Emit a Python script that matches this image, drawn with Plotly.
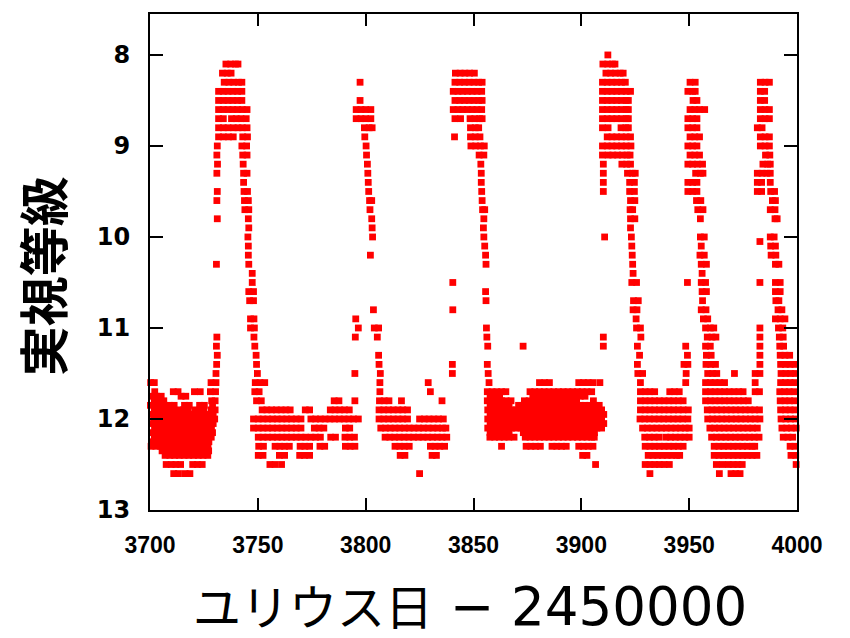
import plotly.graph_objects as go

# ---- data: (visual magnitude, [JD - 2450000, ...]) rows ----
q1_rows = [
    (11.1, [3731.0]), (11.2, [3730.8]), (11.3, [3731.2]), (11.4, [3730.9]), (11.5, [3730.6]),
    (11.6, [3700.3, 3702.0, 3728.3, 3730.6]),
    (11.7, [3699.8, 3702.2, 3710.8, 3713.0, 3720.6, 3723.3, 3728.0, 3730.4]),
    (11.75, [3700.8, 3703.0, 3705.2, 3714.4, 3716.6]),
    (11.8, [3699.8, 3702.0, 3704.3, 3706.4, 3728.6, 3730.2]),
    (11.85, [3700.2, 3702.4, 3704.6, 3706.8, 3709.0, 3711.2, 3716.0, 3718.2, 3723.0, 3725.2, 3729.0]),
    (11.9, [3699.8, 3702.0, 3704.2, 3706.5, 3708.8, 3711.0, 3713.3, 3715.5, 3717.8, 3721.0, 3723.2, 3725.0, 3728.4, 3730.2]),
    (11.95, [3700.9, 3703.1, 3705.3, 3707.5, 3709.7, 3711.9, 3714.1, 3716.3, 3718.5, 3720.7, 3722.9, 3725.1, 3727.3, 3729.3]),
    (12.0, [3699.8, 3702.0, 3704.2, 3706.4, 3708.6, 3710.8, 3713.0, 3715.2, 3717.4, 3719.6, 3721.8, 3724.0, 3726.2, 3728.4, 3730.0]),
    (12.05, [3700.9, 3703.1, 3705.3, 3707.5, 3709.7, 3711.9, 3714.1, 3716.3, 3718.5, 3720.7, 3722.9, 3725.1, 3727.3, 3729.3]),
    (12.1, [3699.8, 3702.1, 3704.3, 3706.5, 3708.7, 3710.9, 3713.1, 3715.3, 3717.5, 3719.7, 3721.9, 3724.1, 3726.3, 3728.5]),
    (12.15, [3700.9, 3703.1, 3705.3, 3707.5, 3709.7, 3711.9, 3714.1, 3716.3, 3718.5, 3720.7, 3722.9, 3725.1, 3727.3, 3729.0]),
    (12.2, [3699.8, 3702.0, 3704.2, 3706.4, 3708.6, 3710.8, 3713.0, 3715.2, 3717.4, 3719.6, 3721.8, 3724.0, 3726.2, 3728.4]),
    (12.25, [3700.9, 3703.1, 3705.3, 3707.5, 3709.7, 3711.9, 3714.1, 3716.3, 3718.5, 3720.7, 3722.9, 3725.1, 3727.3]),
    (12.3, [3700.5, 3702.7, 3704.9, 3707.1, 3709.3, 3711.5, 3713.7, 3715.9, 3718.1, 3720.3, 3722.5, 3724.7, 3726.9]),
    (12.35, [3705.6, 3707.8, 3710.0, 3712.2, 3714.4, 3716.6, 3718.8, 3721.0, 3723.2, 3725.4, 3727.2]),
    (12.4, [3707.0, 3709.2, 3711.4, 3713.6, 3715.8, 3718.0, 3720.2, 3722.4, 3724.6, 3726.8]),
    (12.5, [3707.5, 3709.8, 3712.0, 3714.2, 3719.8, 3722.0, 3724.2]),
    (12.6, [3711.0, 3713.2, 3716.3, 3718.5]),
]

o1_rows = [
    (8.1, [3735.2, 3737.4, 3739.6, 3740.8]),
    (8.2, [3733.6, 3735.8, 3737.6]),
    (8.3, [3734.4, 3736.6, 3738.8, 3741.0, 3742.6]),
    (8.4, [3731.8, 3734.0, 3736.2, 3738.4, 3740.6, 3742.6]),
    (8.5, [3731.8, 3734.0, 3736.2, 3738.4, 3740.6, 3742.6]),
    (8.6, [3731.8, 3734.0, 3736.2, 3738.4, 3740.6, 3742.8, 3745.0]),
    (8.7, [3731.8, 3734.0, 3737.8, 3740.0, 3742.2, 3744.6]),
    (8.8, [3731.8, 3734.0, 3736.2, 3738.6, 3740.8, 3742.8, 3745.0]),
    (8.9, [3731.8, 3734.0, 3736.4, 3738.6, 3743.0, 3745.2]),
    (9.0, [3731.2, 3742.6, 3744.8]),
    (9.1, [3731.0, 3743.0, 3745.0]),
    (9.2, [3731.3, 3743.2]),
    (9.3, [3731.0, 3743.4, 3745.0]),
    (9.4, [3743.4]),
    (9.5, [3731.2, 3743.6, 3745.2]),
    (9.6, [3731.0, 3743.8, 3745.6]),
    (9.7, [3744.0, 3745.8]),
    (9.8, [3731.2, 3745.6]),
    (9.9, [3745.8]),
    (10.0, [3745.4]),
    (10.1, [3745.6]),
    (10.2, [3745.6]),
    (10.3, [3730.8, 3745.8]),
    (10.4, [3747.4]),
    (10.5, [3747.4]),
    (10.6, [3745.8, 3748.0]),
    (10.7, [3746.2, 3748.0]),
    (10.9, [3746.6, 3748.2]),
    (11.0, [3746.6, 3748.4]),
    (11.1, [3748.2]),
    (11.2, [3748.6]),
    (11.3, [3749.2]),
    (11.4, [3749.4]),
    (11.5, [3749.8]),
]

q2_rows = [
    (11.6, [3748.8, 3751.0, 3753.2]),
    (11.7, [3748.6, 3750.6]),
    (11.8, [3749.4, 3751.6, 3785.4, 3787.6, 3795.0]),
    (11.9, [3752.0, 3754.2, 3756.4, 3758.6, 3760.8, 3763.0, 3765.0, 3772.0, 3774.0, 3783.6, 3785.8, 3788.0, 3790.2, 3792.4]),
    (12.0, [3748.0, 3750.2, 3752.4, 3754.6, 3756.8, 3759.0, 3761.2, 3763.4, 3765.6, 3767.8, 3770.0, 3774.6, 3776.8, 3779.0, 3781.2, 3783.4, 3785.6, 3787.8, 3790.0, 3792.2, 3794.4, 3796.6]),
    (12.1, [3748.0, 3750.2, 3752.4, 3754.6, 3756.8, 3759.0, 3761.2, 3763.4, 3765.6, 3767.8, 3770.0, 3776.2, 3778.4, 3780.6, 3790.6, 3792.6]),
    (12.2, [3750.2, 3752.4, 3754.6, 3756.8, 3759.0, 3761.2, 3763.4, 3765.6, 3767.8, 3770.0, 3772.2, 3774.6, 3776.8, 3779.0, 3783.8, 3786.0, 3790.4, 3792.6, 3794.8]),
    (12.3, [3750.4, 3752.6, 3758.0, 3760.2, 3762.4, 3764.6, 3769.6, 3771.8, 3774.0, 3778.8, 3781.0, 3790.6, 3792.8, 3795.0]),
    (12.4, [3750.2, 3752.4, 3760.0, 3762.4, 3769.4, 3771.6, 3774.0]),
    (12.5, [3755.6, 3758.0, 3761.0]),
]

o2_rows = [
    (8.3, [3797.4]),
    (8.5, [3797.4]),
    (8.6, [3795.6, 3797.8, 3800.0, 3802.4]),
    (8.7, [3795.6, 3797.8, 3800.0, 3802.4]),
    (8.8, [3799.4, 3801.6, 3803.0]),
    (8.9, [3799.6]),
    (9.0, [3800.2]),
    (9.1, [3800.4]),
    (9.2, [3800.8]),
    (9.3, [3801.0]),
    (9.4, [3801.2]),
    (9.5, [3801.4]),
    (9.6, [3801.8, 3802.8]),
    (9.7, [3802.0]),
    (9.8, [3802.8]),
    (9.9, [3803.0]),
    (10.0, [3803.2]),
    (10.2, [3802.2]),
    (10.8, [3803.6]),
    (10.9, [3795.4]),
    (11.0, [3796.6, 3804.0, 3806.0]),
    (11.1, [3795.2, 3805.4]),
    (11.3, [3806.0]),
    (11.4, [3806.2]),
    (11.5, [3795.0, 3806.8]),
]

q3_rows = [
    (11.6, [3806.6, 3829.0]),
    (11.7, [3806.6, 3830.0]),
    (11.8, [3806.4, 3808.6, 3810.8, 3816.6, 3835.4]),
    (11.9, [3806.2, 3808.4, 3810.6, 3812.8, 3815.0, 3817.2, 3819.4]),
    (12.0, [3806.2, 3808.4, 3810.6, 3812.8, 3815.0, 3817.2, 3819.4, 3825.0, 3827.2, 3829.4, 3831.6, 3833.8, 3836.0]),
    (12.1, [3807.0, 3809.2, 3811.4, 3813.6, 3815.8, 3818.0, 3820.2, 3822.4, 3824.6, 3826.8, 3829.0, 3831.2, 3833.4, 3835.6, 3837.2]),
    (12.2, [3809.0, 3811.2, 3813.4, 3815.6, 3817.8, 3820.0, 3822.2, 3824.4, 3826.6, 3828.8, 3831.0, 3833.2, 3835.4, 3837.6]),
    (12.3, [3813.6, 3815.8, 3818.0, 3820.2, 3830.0, 3832.2, 3834.4, 3836.6]),
    (12.4, [3816.0, 3818.2, 3830.8, 3832.8]),
    (12.6, [3825.0]),
]

o3_rows = [
    (8.2, [3841.6, 3843.8, 3846.0, 3848.2, 3850.4]),
    (8.3, [3841.4, 3843.6, 3845.8, 3848.0, 3850.2, 3852.4, 3854.0]),
    (8.4, [3840.6, 3842.8, 3845.0, 3847.2, 3849.4, 3851.6, 3853.8]),
    (8.5, [3841.4, 3843.6, 3845.8, 3848.0, 3850.2, 3852.4, 3854.0]),
    (8.6, [3840.6, 3842.8, 3845.0, 3847.2, 3849.4, 3851.6, 3853.8]),
    (8.7, [3841.4, 3844.0, 3848.4, 3850.6, 3852.8, 3854.0]),
    (8.8, [3848.6, 3850.8, 3852.4]),
    (8.9, [3841.2, 3848.6, 3850.8, 3853.0]),
    (9.0, [3848.8, 3851.0, 3853.2, 3855.0]),
    (9.1, [3852.6, 3854.8]),
    (9.2, [3853.4]),
    (9.3, [3853.6]),
    (9.4, [3853.6]),
    (9.5, [3853.8]),
    (9.6, [3854.0]),
    (9.7, [3854.2, 3855.2]),
    (9.8, [3854.8]),
    (9.9, [3854.6]),
    (10.0, [3854.8]),
    (10.1, [3855.2]),
    (10.2, [3855.6]),
    (10.3, [3855.8]),
    (10.5, [3840.4]),
    (10.6, [3855.6]),
    (10.7, [3855.8]),
    (10.8, [3840.4]),
    (11.0, [3856.0]),
    (11.1, [3856.2]),
    (11.2, [3856.6]),
    (11.4, [3840.2, 3856.4]),
    (11.5, [3840.2, 3856.8]),
]

q4_rows = [
    (11.2, [3873.0, 3910.2]),
    (11.1, [3910.2]),
    (11.6, [3857.2, 3880.6, 3883.0, 3885.2, 3898.8, 3901.0, 3903.2, 3905.4, 3908.6]),
    (11.7, [3856.4, 3858.6, 3860.8, 3863.0, 3865.0, 3876.2, 3878.4, 3880.6, 3882.8, 3885.0, 3887.2, 3889.4, 3891.6, 3893.8, 3896.0, 3898.2, 3900.4, 3902.6, 3904.8]),
    (11.75, [3857.7, 3859.9, 3862.1, 3877.5, 3879.7, 3881.9, 3884.1, 3886.3, 3888.5, 3890.7, 3892.9, 3895.1, 3897.3, 3899.5, 3901.7]),
    (11.8, [3856.4, 3858.6, 3860.8, 3863.0, 3865.2, 3867.4, 3873.6, 3875.8, 3878.0, 3880.2, 3882.4, 3884.6, 3886.8, 3889.0, 3891.2, 3893.4, 3895.6, 3897.8, 3905.6]),
    (11.85, [3857.7, 3859.9, 3862.1, 3864.3, 3866.5, 3870.9, 3873.1, 3875.3, 3877.5, 3879.7, 3881.9, 3884.1, 3886.3, 3888.5, 3890.7, 3892.9, 3895.1, 3897.3, 3899.5, 3901.7, 3903.9, 3906.1, 3908.3]),
    (11.9, [3856.6, 3858.8, 3861.0, 3863.2, 3865.4, 3867.6, 3869.8, 3872.0, 3874.2, 3876.4, 3878.6, 3880.8, 3883.0, 3885.2, 3887.4, 3889.6, 3891.8, 3894.0, 3896.2, 3898.4, 3900.6, 3902.8, 3905.0, 3907.2, 3909.4]),
    (11.95, [3857.7, 3859.9, 3862.1, 3864.3, 3866.5, 3868.7, 3870.9, 3873.1, 3875.3, 3877.5, 3879.7, 3881.9, 3884.1, 3886.3, 3888.5, 3890.7, 3892.9, 3895.1, 3897.3, 3899.5, 3901.7, 3903.9, 3906.1, 3908.3, 3910.4]),
    (12.0, [3856.6, 3858.8, 3861.0, 3863.2, 3865.4, 3867.6, 3869.8, 3872.0, 3874.2, 3876.4, 3878.6, 3880.8, 3883.0, 3885.2, 3887.4, 3889.6, 3891.8, 3894.0, 3896.2, 3898.4, 3900.6, 3902.8, 3905.0, 3907.2, 3909.4]),
    (12.05, [3857.7, 3859.9, 3862.1, 3864.3, 3866.5, 3868.7, 3870.9, 3873.1, 3875.3, 3877.5, 3879.7, 3881.9, 3884.1, 3886.3, 3888.5, 3890.7, 3892.9, 3895.1, 3897.3, 3899.5, 3901.7, 3903.9, 3906.1, 3908.3, 3910.4]),
    (12.1, [3856.6, 3858.8, 3861.0, 3863.2, 3865.4, 3867.6, 3869.8, 3872.0, 3874.2, 3876.4, 3878.6, 3880.8, 3883.0, 3885.2, 3887.4, 3889.6, 3891.8, 3894.0, 3896.2, 3898.4, 3900.6, 3902.8, 3905.0, 3907.2, 3909.4]),
    (12.15, [3857.7, 3859.9, 3862.1, 3864.3, 3866.5, 3873.1, 3875.3, 3877.5, 3879.7, 3881.9, 3884.1, 3886.3, 3888.5, 3890.7, 3892.9, 3895.1, 3897.3, 3899.5, 3901.7, 3903.9, 3906.1]),
    (12.2, [3857.6, 3859.8, 3862.0, 3864.2, 3866.4, 3868.8, 3874.0, 3876.2, 3878.4, 3880.6, 3882.8, 3885.0, 3887.2, 3889.4, 3891.6, 3893.8, 3896.0, 3898.2, 3900.4, 3902.6, 3904.8, 3906.0]),
    (12.3, [3863.0, 3874.4, 3876.6, 3878.8, 3881.0, 3886.4, 3888.6, 3890.8, 3893.0, 3898.8, 3901.0, 3903.2, 3905.4]),
    (12.4, [3900.6, 3902.6]),
    (12.5, [3906.6]),
]

o4_rows = [
    (8.0, [3912.3]),
    (8.1, [3910.0, 3912.2, 3914.4, 3915.6]),
    (8.2, [3911.4, 3913.6, 3915.8, 3918.0, 3919.4]),
    (8.3, [3909.8, 3912.0, 3914.2, 3916.4, 3918.6, 3920.4]),
    (8.4, [3909.8, 3912.0, 3914.2, 3916.4, 3918.6, 3920.8, 3922.8]),
    (8.5, [3909.8, 3912.0, 3914.2, 3916.4, 3918.6, 3920.8, 3921.8]),
    (8.6, [3909.8, 3912.0, 3914.2, 3916.4, 3918.6, 3920.8, 3921.8]),
    (8.7, [3909.8, 3912.0, 3914.2, 3916.4, 3918.6, 3920.8, 3921.8]),
    (8.8, [3909.8, 3912.4, 3918.4, 3920.6, 3921.8]),
    (8.9, [3912.0, 3914.2, 3916.4, 3918.6, 3920.8, 3922.8]),
    (9.0, [3909.8, 3912.0, 3914.2, 3916.4, 3918.6, 3920.8, 3923.0]),
    (9.1, [3909.8, 3912.4, 3914.6, 3916.8, 3919.0, 3921.2, 3922.6]),
    (9.2, [3910.2, 3918.8, 3921.0, 3922.8]),
    (9.3, [3910.2, 3921.4, 3923.6, 3925.0]),
    (9.4, [3910.2, 3922.4, 3924.6]),
    (9.5, [3910.2, 3922.4, 3924.6]),
    (9.6, [3922.8, 3924.8]),
    (9.7, [3922.6, 3923.8]),
    (9.8, [3922.8, 3924.8]),
    (9.9, [3922.8]),
    (10.0, [3910.8, 3923.2]),
    (10.1, [3923.4]),
    (10.2, [3923.6]),
    (10.3, [3923.8]),
    (10.4, [3924.0]),
    (10.5, [3923.4, 3925.6]),
    (10.7, [3924.2, 3926.4]),
    (10.8, [3924.0, 3925.8]),
    (10.9, [3925.4]),
    (11.0, [3925.6, 3927.4]),
    (11.1, [3927.6]),
    (11.2, [3926.0]),
    (11.3, [3927.0]),
    (11.4, [3926.0]),
    (11.5, [3926.2, 3928.4]),
]

q5_rows = [
    (11.6, [3927.4]),
    (11.7, [3927.4, 3929.6, 3931.8, 3934.0, 3941.0, 3943.2, 3945.4]),
    (11.8, [3927.4, 3929.6, 3931.8, 3934.0, 3936.2, 3938.4, 3940.6, 3942.8, 3945.0, 3947.2]),
    (11.9, [3927.4, 3929.6, 3931.8, 3934.0, 3936.2, 3938.4, 3940.6, 3942.8, 3945.0, 3947.2, 3949.6]),
    (12.0, [3927.2, 3929.4, 3931.6, 3933.8, 3936.0, 3938.2, 3940.4, 3942.6, 3944.8, 3947.0, 3949.4]),
    (12.1, [3928.4, 3930.6, 3932.8, 3935.0, 3937.2, 3939.4, 3941.6, 3943.8, 3946.0, 3948.2, 3950.0]),
    (12.2, [3929.4, 3931.6, 3933.8, 3936.0, 3939.2, 3941.4, 3943.6, 3945.8, 3948.0, 3950.0]),
    (12.3, [3929.6, 3931.8, 3934.0, 3936.2, 3938.4, 3940.6, 3942.8, 3945.0, 3947.2]),
    (12.4, [3931.0, 3933.2, 3935.4, 3937.6, 3939.8, 3942.0, 3944.2, 3945.6]),
    (12.5, [3929.6, 3931.8, 3934.0, 3936.2, 3938.4, 3940.8]),
    (12.6, [3931.8]),
]

o5_rows = [
    (8.3, [3950.4, 3952.8]),
    (8.4, [3949.4, 3951.6, 3952.8]),
    (8.5, [3951.8, 3953.6]),
    (8.6, [3950.4, 3952.6, 3954.8, 3957.2]),
    (8.7, [3949.4, 3951.6, 3953.6]),
    (8.8, [3949.4, 3951.6, 3953.6]),
    (8.9, [3950.4, 3952.6, 3954.8]),
    (9.0, [3949.4, 3951.6, 3953.6]),
    (9.1, [3950.4, 3952.6, 3954.8]),
    (9.2, [3949.4, 3951.6, 3953.8, 3956.2]),
    (9.3, [3953.0, 3955.2, 3956.4]),
    (9.4, [3949.4, 3951.6, 3953.6]),
    (9.5, [3949.4, 3951.6, 3953.6]),
    (9.6, [3953.4, 3955.4]),
    (9.7, [3954.0, 3956.4]),
    (9.8, [3955.2]),
    (10.0, [3955.2, 3957.0]),
    (10.1, [3955.6]),
    (10.2, [3955.0, 3957.0]),
    (10.3, [3955.6, 3958.0]),
    (10.4, [3956.0]),
    (10.5, [3949.2, 3955.6, 3957.6]),
    (10.6, [3956.0, 3958.0]),
    (10.7, [3956.2]),
    (10.8, [3955.6, 3957.8]),
    (10.9, [3956.6, 3958.6]),
    (11.0, [3957.6, 3959.8, 3961.4]),
    (11.1, [3958.4, 3960.6, 3962.4]),
    (11.2, [3948.4, 3957.6, 3959.8]),
    (11.3, [3949.2, 3958.0, 3960.2]),
    (11.4, [3947.6, 3949.4, 3957.8, 3960.0, 3962.2]),
    (11.5, [3948.6, 3958.6, 3960.8, 3962.8, 3971.0, 3980.6]),
    (11.6, [3948.4]),
]

q6_rows = [
    (11.6, [3957.6, 3959.8, 3962.0, 3964.2, 3966.4, 3980.6]),
    (11.7, [3957.6, 3959.8, 3962.0, 3964.2, 3966.4, 3968.6, 3970.8, 3973.0, 3975.0, 3980.6, 3982.6]),
    (11.8, [3957.6, 3959.8, 3962.0, 3964.2, 3966.4, 3968.6, 3970.8, 3973.0, 3975.2, 3977.4]),
    (11.9, [3958.4, 3960.6, 3962.8, 3965.0, 3967.2, 3969.4, 3971.6, 3973.8, 3976.0, 3978.2, 3980.4, 3982.6]),
    (12.0, [3958.6, 3960.8, 3963.0, 3965.2, 3967.4, 3969.6, 3971.8, 3974.0, 3976.2, 3978.4, 3980.6, 3982.8]),
    (12.1, [3959.6, 3961.8, 3964.0, 3966.2, 3968.4, 3970.6, 3972.8, 3975.0, 3977.2, 3979.4, 3981.6]),
    (12.2, [3960.4, 3962.6, 3964.8, 3967.0, 3969.2, 3971.4, 3973.6, 3975.8, 3978.0, 3980.2, 3982.4]),
    (12.3, [3961.6, 3963.8, 3966.0, 3968.2, 3970.4, 3972.6, 3974.8, 3977.0, 3979.2, 3980.4]),
    (12.4, [3961.6, 3963.8, 3966.0, 3968.2, 3970.4, 3972.6, 3974.8, 3977.0, 3979.2, 3981.4]),
    (12.5, [3962.6, 3965.4, 3968.2, 3970.4, 3972.6, 3974.6]),
    (12.6, [3964.0, 3969.4, 3971.6, 3973.6]),
]

o6_rows = [
    (8.3, [3983.0, 3985.2, 3987.2]),
    (8.4, [3983.0, 3985.0]),
    (8.5, [3983.0, 3985.0]),
    (8.6, [3983.0, 3985.2, 3987.2]),
    (8.7, [3983.0, 3985.2, 3987.2]),
    (8.8, [3981.6, 3983.8]),
    (8.9, [3983.0, 3985.2, 3987.2]),
    (9.0, [3983.0, 3985.2, 3987.2]),
    (9.1, [3985.4, 3987.4]),
    (9.2, [3984.2, 3986.4, 3987.6]),
    (9.3, [3981.6, 3983.8, 3986.0, 3987.6]),
    (9.4, [3981.6, 3983.6, 3987.6]),
    (9.5, [3981.6, 3983.6, 3987.8, 3989.6]),
    (9.6, [3988.6, 3990.0]),
    (9.7, [3987.6, 3989.8]),
    (9.8, [3989.8, 3990.8]),
    (10.0, [3987.6, 3989.4]),
    (10.05, [3982.8]),
    (10.1, [3987.8, 3990.0]),
    (10.2, [3988.0, 3990.2]),
    (10.3, [3990.0, 3991.6]),
    (10.5, [3982.8, 3990.0, 3992.2]),
    (10.6, [3990.0, 3992.2]),
    (10.7, [3990.2, 3991.6]),
    (10.8, [3991.2, 3993.0]),
    (10.9, [3990.0, 3992.2, 3994.4]),
    (11.0, [3982.8, 3991.4, 3993.4]),
    (11.1, [3982.8, 3991.8, 3993.6]),
    (11.2, [3982.8, 3992.0, 3993.8]),
    (11.3, [3982.8, 3992.2, 3994.4, 3996.6]),
    (11.4, [3982.8, 3992.4, 3994.6, 3996.8, 3999.0]),
    (11.5, [3982.8, 3992.6, 3994.8, 3997.0, 3999.2]),
]

q7_rows = [
    (11.6, [3992.4, 3994.6, 3996.8, 3999.0]),
    (11.7, [3992.0, 3994.2, 3996.4, 3998.6]),
    (11.8, [3992.2, 3994.4, 3996.6, 3998.8]),
    (11.9, [3992.4, 3994.6, 3996.8, 3999.0]),
    (12.0, [3992.6, 3994.8, 3997.0, 3999.2]),
    (12.1, [3993.0, 3995.2, 3997.4, 3999.6]),
    (12.2, [3993.6, 3995.8, 3998.0]),
    (12.3, [3996.8, 3999.0]),
    (12.4, [3997.2, 3999.4]),
    (12.5, [3999.6]),
]

x_ticks = [3700, 3750, 3800, 3850, 3900, 3950, 4000]
y_ticks = [8, 9, 10, 11, 12, 13]

segments = [q1_rows, o1_rows, q2_rows, o2_rows, q3_rows, o3_rows,
            q4_rows, o4_rows, q5_rows, o5_rows, q6_rows, o6_rows, q7_rows]

jd, mag = [], []
for seg in segments:
    for m, days in seg:
        for d in days:
            jd.append(d)
            mag.append(m)

fig = go.Figure(go.Scatter(
    x=jd, y=mag, mode="markers", cliponaxis=False,
    marker=dict(symbol="square", size=6.8, color="#ff0000", line=dict(width=0)),
    hoverinfo="skip", showlegend=False,
))

axis_common = dict(showline=True, linecolor="black", linewidth=2, mirror="ticks",
                   ticks="inside", tickcolor="black", tickwidth=2,
                   showgrid=False, zeroline=False, layer="above traces")

fig.update_xaxes(range=[3700, 4000], tickvals=x_ticks, ticktext=[str(v) for v in x_ticks],
                 ticklen=12, ticklabelstandoff=13,
                 tickfont=dict(family="Liberation Sans", size=23, color="black", weight="bold"),
                 **axis_common)
fig.update_yaxes(range=[13, 7.55], tickvals=y_ticks, ticktext=[str(v) for v in y_ticks],
                 ticklen=13, ticklabelstandoff=13,
                 tickfont=dict(family="DejaVu Sans", size=24, color="black", weight="bold"),
                 **axis_common)

fig.add_annotation(text="実視等級", xref="paper", yref="paper", x=-0.168, y=0.472,
                   xanchor="center", yanchor="middle", textangle=-90, showarrow=False,
                   font=dict(family="Noto Sans CJK JP", size=50, color="black", weight="bold"))
fig.add_annotation(text='<span style="font-family:Noto Sans CJK JP;font-size:48px">ユリウス日</span> − 2450000',
                   xref="paper", yref="paper", x=0.495, y=-0.19,
                   xanchor="center", yanchor="middle", showarrow=False,
                   font=dict(family="DejaVu Sans", size=53, color="black"))

fig.update_layout(width=850, height=638, margin=dict(l=150, r=53, t=12, b=128),
                  plot_bgcolor="white", paper_bgcolor="white")

fig.write_html("out.html")
